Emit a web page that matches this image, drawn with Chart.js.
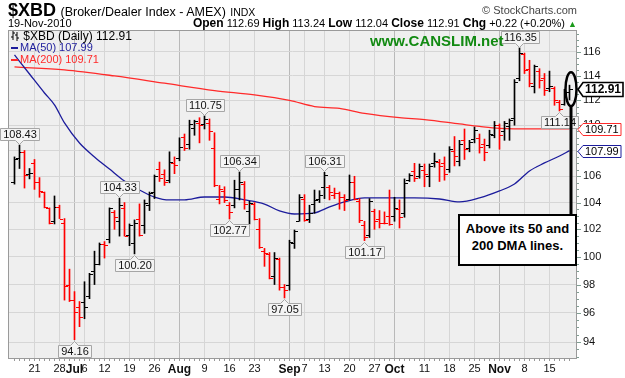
<!DOCTYPE html>
<html>
<head>
<meta charset="utf-8">
<script src="https://cdn.jsdelivr.net/npm/chart.js@4.4.1/dist/chart.umd.min.js"></script>
<style>
  html, body { margin: 0; padding: 0; background: #fff; }
  #wrap { position: relative; width: 625px; height: 378px; font-family: "Liberation Sans", Arial, sans-serif; color: #000; }
  #wrap canvas { display: block; }
  .t { position: absolute; white-space: nowrap; }
  .mark { display: inline-block; width: 7px; height: 2px; vertical-align: middle; margin-right: 2px; }
</style>
</head>
<body>
<div id="wrap">
  <canvas id="chart" width="625" height="378"></canvas>

  <div class="t" style="left:8px;top:0px;line-height:20px;">
    <b style="font-size:18px;">$XBD</b>
    <span style="font-size:12.5px;">(Broker/Dealer Index - AMEX)</span>
    <span style="font-size:10.5px;">INDX</span>
  </div>
  <div class="t" style="right:48px;top:4px;font-size:11px;color:#444;">&copy; StockCharts.com</div>
  <div class="t" style="left:8px;top:17px;font-size:11px;">19-Nov-2010</div>
  <div class="t" style="right:48px;top:16px;font-size:11px;">
    <b style="font-size:12px;">Open</b> 112.69 <b style="font-size:12px;">High</b> 113.24
    <b style="font-size:12px;">Low</b> 112.04 <b style="font-size:12px;">Close</b> 112.91
    <b style="font-size:12px;">Chg</b> +0.22 (+0.20%) <span style="color:#1a9a1a;font-size:9px;">&#9650;</span>
  </div>

  <div class="t" style="left:11px;top:30px;font-size:12px;line-height:12px;">
    <svg width="9" height="10" style="vertical-align:-1px;"><path d="M2 0V9M0 6H2M2 2H4M6 1V10M4 4H6M6 7H8" stroke="#000" stroke-width="1" fill="none"/></svg>
    $XBD (Daily) 112.91
  </div>
  <div class="t" style="left:11px;top:42px;font-size:11px;line-height:11px;color:#1c1c9c;"><span class="mark" style="background:#1c1c9c;"></span>MA(50) 107.99</div>
  <div class="t" style="left:11px;top:54px;font-size:11px;line-height:11px;color:#ff2a2a;"><span class="mark" style="background:#ff2a2a;"></span>MA(200) 109.71</div>

  <div class="t" style="left:370px;top:32px;font-size:15px;font-weight:bold;color:#128a12;">www.CANSLIM.net</div>

  <div class="t" style="left:458px;top:214px;width:115px;height:44px;border:2px solid #000;background:#fff;
       font-size:13px;font-weight:bold;line-height:17px;text-align:center;padding-top:4px;">
    Above its 50 and<br>200 DMA lines.
  </div>
</div>

<script>
// trading days 15-Jun-2010 .. 19-Nov-2010, one entry per session
const opens = [
  105.6, 107.4, 107.9, 106.2, 107.0, 105.6, 104.8, 103.6, 102.6, 103.7,
  102.5, 98.0, 96.9, 96.4, 96.8, 97.2, 99.0, 99.5, 100.9, 101.3,
  103.3, 102.6, 103.6, 101.6, 101.0, 102.8, 102.3, 103.8, 104.8, 106.6,
  106.2, 105.7, 107.0, 107.4, 109.1, 108.5, 109.8, 110.2, 110.1, 110.2,
  108.2, 104.3, 104.9, 103.8, 103.8, 105.0, 105.4, 103.4, 103.9, 102.0,
  100.4, 100.2, 98.6, 99.8, 97.8, 98.0, 101.0, 102.6, 104.3, 102.8,
  103.9, 104.3, 105.2, 105.2, 104.6, 104.7, 104.4, 104.3, 105.6, 104.1,
  102.3, 101.6, 103.4, 102.8, 102.5, 103.0, 103.0, 103.5, 103.2, 105.7,
  106.4, 106.0, 106.5, 106.0, 107.0, 107.1, 107.0, 106.6, 108.0, 107.2,
  108.8, 108.2, 108.9, 109.0, 108.5, 108.4, 109.2, 110.0, 109.5, 109.9,
  110.6, 113.8, 115.8, 114.6, 113.2, 114.4, 113.8, 113.0, 113.0, 111.9,
  111.7, 112.69
];
const highs = [
  107.5, 108.43, 108.0, 106.6, 107.3, 105.9, 104.8, 103.6, 104.5, 103.8,
  102.8, 99.1, 97.5, 96.8, 98.2, 98.8, 100.4, 101.0, 101.1, 103.6,
  103.4, 104.33, 104.0, 102.4, 102.7, 103.9, 104.2, 104.8, 106.1, 107.1,
  106.5, 107.9, 107.5, 109.0, 109.3, 110.4, 110.4, 110.6, 110.75, 110.5,
  109.4, 105.3, 105.2, 104.0, 105.7, 106.34, 105.6, 104.1, 104.0, 102.8,
  100.6, 100.3, 100.3, 99.9, 98.0, 101.2, 101.95, 104.6, 104.6, 103.8,
  104.95, 104.9, 106.31, 105.3, 105.1, 104.8, 104.6, 106.1, 106.0, 104.3,
  102.6, 104.3, 103.5, 103.4, 103.3, 104.95, 104.4, 104.2, 105.8, 106.2,
  107.0, 106.95, 106.95, 106.95, 107.8, 107.3, 107.5, 108.3, 109.1, 108.8,
  109.7, 108.8, 109.85, 109.3, 108.9, 109.6, 110.3, 110.1, 110.3, 110.5,
  113.7, 116.35, 115.9, 115.3, 114.9, 114.6, 114.2, 114.4, 113.1, 112.0,
  112.9, 113.24
];
const lows = [
  105.4, 106.6, 105.1, 105.8, 105.0, 104.4, 103.6, 102.4, 102.4, 102.8,
  96.9, 96.8, 94.16, 95.05, 95.6, 97.0, 98.0, 99.4, 99.9, 101.0,
  102.0, 101.5, 101.5, 100.8, 100.2, 101.5, 101.7, 103.4, 104.3, 105.6,
  105.3, 105.5, 106.2, 107.2, 108.0, 108.1, 109.2, 108.6, 109.7, 108.8,
  105.2, 103.9, 104.0, 102.77, 103.6, 104.2, 103.5, 102.4, 102.7, 100.6,
  99.3, 98.4, 98.0, 97.6, 97.05, 97.6, 100.6, 102.6, 102.6, 102.5,
  103.2, 104.0, 104.3, 104.2, 104.3, 103.5, 103.4, 104.2, 104.2, 102.5,
  101.17, 101.4, 102.0, 102.1, 102.4, 102.3, 102.6, 102.1, 102.9, 105.6,
  105.6, 105.85, 105.2, 105.2, 106.7, 105.6, 105.7, 106.3, 106.8, 106.8,
  107.3, 107.9, 108.6, 107.8, 107.2, 108.2, 109.0, 108.1, 108.8, 108.8,
  110.0, 113.6, 114.2, 113.1, 112.6, 113.0, 112.4, 112.7, 111.6, 111.14,
  111.6, 112.04
];
const closes = [
  107.3, 107.9, 106.1, 106.25, 105.6, 104.9, 103.7, 102.5, 103.7, 102.8,
  97.9, 96.9, 96.1, 95.7, 96.4, 98.75, 99.5, 100.95, 100.85, 103.6,
  102.9, 103.8, 101.5, 102.3, 102.5, 101.55, 104.0, 104.7, 106.0, 105.9,
  105.6, 107.1, 106.9, 108.3, 108.2, 110.1, 110.3, 110.0, 110.5, 109.5,
  105.3, 105.0, 104.2, 103.3, 105.0, 105.6, 103.9, 104.0, 102.8, 100.7,
  100.3, 98.5, 99.9, 97.8, 97.6, 101.1, 101.9, 104.4, 102.7, 103.2,
  104.2, 104.6, 106.1, 104.8, 104.7, 104.4, 104.2, 105.6, 104.3, 102.7,
  101.4, 104.1, 102.6, 102.5, 102.45, 102.4, 103.6, 102.9, 105.5, 106.1,
  105.85, 106.8, 106.2, 106.8, 107.2, 106.8, 106.2, 108.1, 107.6, 108.5,
  108.1, 108.7, 109.6, 108.3, 107.9, 109.3, 110.0, 109.2, 110.2, 110.4,
  113.5, 115.9, 114.5, 113.4, 114.8, 113.7, 112.85, 113.2, 112.0, 111.3,
  112.69, 112.91
];

// moving averages (session index, value)
const ma50Idx = [0, 3, 6, 8, 10, 13, 16, 19, 22, 25, 28, 31, 34, 38, 42, 46, 50, 53, 56, 60, 63, 66, 70, 75, 80, 85, 89, 93, 97, 100, 103, 106, 109, 111];
const ma50Val = [115.75, 114.16, 112.6, 111.63, 110.18, 108.59, 107.5, 106.56, 105.64, 104.95, 104.42, 104.2, 104.2, 104.42, 104.42, 104.2, 103.89, 103.37, 103.14, 103.22, 103.67, 104.05, 104.35, 104.35, 104.35, 104.27, 104.05, 104.35, 104.88, 105.41, 106.41, 107.03, 107.57, 107.99];
const ma200Idx = [0, 10, 20, 30, 40, 48, 55, 60, 65, 70, 77, 82, 89, 93, 97, 104, 111];
const ma200Val = [114.75, 114.5, 114.0, 113.4, 112.8, 112.45, 112.0, 111.5, 111.35, 110.95, 110.6, 110.45, 110.1, 109.9, 109.75, 109.71, 109.71];

// axis labels
const xTickIdx = [4, 9, 12, 14, 18, 23, 28, 33, 38, 43, 48, 55, 58, 62, 67, 72, 76, 82, 87, 92, 97, 102, 107];
const xTickText = ['21', '28', 'Jul', '6', '12', '19', '26', 'Aug', '9', '16', '23', 'Sep', '7', '13', '20', '27', 'Oct', '11', '18', '25', 'Nov', '8', '15'];
const yTicks = [94, 96, 98, 100, 102, 104, 106, 108, 110, 112, 114, 116];

// labelled swing highs / lows
const peakIdx = [1, 21, 38, 45, 62, 101];
const troughIdx = [12, 24, 43, 54, 70, 109];

const FONT = '"Liberation Sans", Arial, sans-serif';
const barColors = closes.map((c, i) => (i > 0 && c < closes[i - 1]) ? '#ff0000' : '#000000');
const isMonth = v => {
  const k = xTickIdx.indexOf(v);
  return k >= 0 && isNaN(Number(xTickText[k]));
};

const plotFrame = {
  id: 'plotFrame',
  beforeDraw(chart) {
    const { ctx, chartArea: a } = chart;
    ctx.save();
    ctx.fillStyle = '#efefef';
    ctx.fillRect(a.left, a.top, a.right - a.left, a.bottom - a.top);
    ctx.restore();
  },
  afterDraw(chart) {
    const { ctx, chartArea: a, scales: { x, y } } = chart;
    ctx.save();
    // frame
    ctx.strokeStyle = '#9a9a9a';
    ctx.lineWidth = 1;
    ctx.strokeRect(a.left + 0.5, a.top + 0.5, a.right - a.left - 1, a.bottom - a.top - 1);
    // daily ticks under the plot
    ctx.fillStyle = '#9a9a9a';
    closes.forEach((c, i) => ctx.fillRect(Math.floor(x.getPixelForValue(i)), a.bottom, 1, 2));
    // minor ticks on the price axis
    ctx.fillStyle = '#7f9e92';
    for (let v = 93; v <= 117.5; v += 0.5) {
      const py = Math.round(y.getPixelForValue(v));
      ctx.fillRect(a.right, py, v % 2 === 0 ? 4 : 2, 1);
    }
    ctx.restore();
  }
};

const ohlcTicks = {
  id: 'ohlcTicks',
  afterDatasetsDraw(chart) {
    const { ctx, chartArea: a, scales: { x, y } } = chart;
    ctx.save();
    ctx.beginPath();
    ctx.rect(a.left, a.top, a.right - a.left, a.bottom - a.top);
    ctx.clip();
    closes.forEach((c, i) => {
      const px = Math.floor(x.getPixelForValue(i));
      ctx.fillStyle = barColors[i];
      ctx.fillRect(px - 3, Math.round(y.getPixelForValue(opens[i])), 3, 1);
      ctx.fillRect(px + 1, Math.round(y.getPixelForValue(c)), 3, 1);
    });
    ctx.restore();
  }
};

function callout(ctx, x, yTip, text, above) {
  ctx.font = '11px ' + FONT;
  const w = Math.round(ctx.measureText(text).width) + 5;
  const h = 12;
  const cx = Math.floor(x) + 0.5;
  const bx = Math.round(x - w / 2) + 0.5;
  const by = above ? Math.round(yTip) - 4 - h + 0.5 : Math.round(yTip) + 4 + 0.5;
  ctx.beginPath();
  if (above) {
    ctx.moveTo(bx, by);
    ctx.lineTo(bx + w, by);
    ctx.lineTo(bx + w, by + h);
    ctx.lineTo(cx + 4, by + h);
    ctx.lineTo(cx, by + h + 4);
    ctx.lineTo(cx - 4, by + h);
    ctx.lineTo(bx, by + h);
  } else {
    ctx.moveTo(bx, by);
    ctx.lineTo(cx - 4, by);
    ctx.lineTo(cx, by - 4);
    ctx.lineTo(cx + 4, by);
    ctx.lineTo(bx + w, by);
    ctx.lineTo(bx + w, by + h);
    ctx.lineTo(bx, by + h);
  }
  ctx.closePath();
  ctx.fillStyle = '#f4f4f4';
  ctx.fill();
  ctx.strokeStyle = '#a6a6a6';
  ctx.lineWidth = 1;
  ctx.stroke();
  ctx.fillStyle = '#111';
  ctx.textAlign = 'center';
  ctx.textBaseline = 'middle';
  ctx.fillText(text, bx + w / 2, by + h / 2 + 0.5);
}

function priceTag(ctx, xLeft, yPix, text, color, bold) {
  const y = Math.round(yPix) + 0.5;
  ctx.font = (bold ? 'bold 12px ' : '11px ') + FONT;
  const w = Math.round(ctx.measureText(text).width) + 4;
  const h = bold ? 7 : 6;
  ctx.beginPath();
  ctx.moveTo(xLeft, y);
  ctx.lineTo(xLeft + 5, y - h);
  ctx.lineTo(xLeft + 5 + w, y - h);
  ctx.lineTo(xLeft + 5 + w, y + h);
  ctx.lineTo(xLeft + 5, y + h);
  ctx.closePath();
  ctx.fillStyle = '#fff';
  ctx.fill();
  ctx.strokeStyle = color;
  ctx.lineWidth = bold ? 1.6 : 1;
  ctx.stroke();
  ctx.fillStyle = '#000';
  ctx.textAlign = 'left';
  ctx.textBaseline = 'middle';
  ctx.fillText(text, xLeft + 7, y + 0.5);
}

const overlays = {
  id: 'overlays',
  afterDraw(chart) {
    const { ctx, chartArea: a, scales: { x, y } } = chart;
    const last = closes.length - 1;
    ctx.save();
    peakIdx.forEach(i => callout(ctx, x.getPixelForValue(i), y.getPixelForValue(highs[i]) - 1, highs[i].toFixed(2), true));
    troughIdx.forEach(i => callout(ctx, x.getPixelForValue(i), y.getPixelForValue(lows[i]) + 1, lows[i].toFixed(2), false));

    // ring around the latest bar and the pointer down to the note
    const cx = x.getPixelForValue(last) + 1.5;
    const cy = y.getPixelForValue(closes[last]);
    ctx.strokeStyle = '#000';
    ctx.lineWidth = 2.5;
    ctx.beginPath();
    ctx.ellipse(cx, cy, 5.5, 17, 0, 0, Math.PI * 2);
    ctx.stroke();
    ctx.lineWidth = 3;
    ctx.beginPath();
    ctx.moveTo(cx, cy + 17);
    ctx.lineTo(cx, 216);
    ctx.stroke();

    priceTag(ctx, a.right + 1, y.getPixelForValue(ma200Val[ma200Val.length - 1]), ma200Val[ma200Val.length - 1].toFixed(2), '#ff2a2a', false);
    priceTag(ctx, a.right + 1, y.getPixelForValue(ma50Val[ma50Val.length - 1]), ma50Val[ma50Val.length - 1].toFixed(2), '#1c1c9c', false);
    priceTag(ctx, a.right + 1, y.getPixelForValue(closes[last]), closes[last].toFixed(2), '#000', true);
    ctx.restore();
  }
};

new Chart(document.getElementById('chart').getContext('2d'), {
  type: 'line',
  data: {
    datasets: [
      {
        type: 'bar',
        label: '$XBD',
        data: lows.map((l, i) => ({ x: i, y: [l, highs[i]] })),
        backgroundColor: barColors,
        borderWidth: 0,
        barThickness: 1,
        grouped: false
      },
      {
        label: 'MA(50)',
        data: ma50Idx.map((v, k) => ({ x: v, y: ma50Val[k] })),
        borderColor: '#1c1c9c',
        borderWidth: 1.3,
        pointRadius: 0,
        cubicInterpolationMode: 'monotone',
        fill: false
      },
      {
        label: 'MA(200)',
        data: ma200Idx.map((v, k) => ({ x: v, y: ma200Val[k] })),
        borderColor: '#ff2a2a',
        borderWidth: 1.3,
        pointRadius: 0,
        cubicInterpolationMode: 'monotone',
        fill: false
      }
    ]
  },
  options: {
    responsive: false,
    animation: false,
    devicePixelRatio: 1,
    layout: { padding: { top: 30, left: 8, right: 0, bottom: 0 } },
    plugins: { legend: { display: false }, tooltip: { enabled: false } },
    scales: {
      x: {
        type: 'linear',
        min: -1.3,
        max: 112.5,
        offset: false,
        afterBuildTicks: s => { s.ticks = xTickIdx.map(v => ({ value: v })); },
        afterFit: s => { s.height = 19; },
        border: { display: false },
        grid: {
          offset: false,
          drawTicks: false,
          color: ctx => (ctx.tick && isMonth(ctx.tick.value)) ? '#b9b9b9' : '#d6d6d6'
        },
        ticks: {
          autoSkip: false,
          maxRotation: 0,
          padding: 3,
          color: '#111',
          font: ctx => (ctx.tick && isMonth(ctx.tick.value))
            ? { family: FONT, size: 12, weight: 'bold' }
            : { family: FONT, size: 11 },
          callback: v => xTickText[xTickIdx.indexOf(v)]
        }
      },
      y: {
        type: 'logarithmic',
        position: 'right',
        min: 92.85,
        max: 117.86,
        beginAtZero: false,
        afterBuildTicks: s => { s.ticks = yTicks.map(v => ({ value: v })); },
        afterFit: s => { s.width = 48; },
        border: { display: false },
        grid: { drawTicks: false, color: '#d6d6d6' },
        ticks: {
          autoSkip: false,
          padding: 6,
          color: '#111',
          font: { family: FONT, size: 11 },
          callback: v => String(v)
        }
      }
    }
  },
  plugins: [plotFrame, ohlcTicks, overlays]
});
</script>
</body>
</html>
